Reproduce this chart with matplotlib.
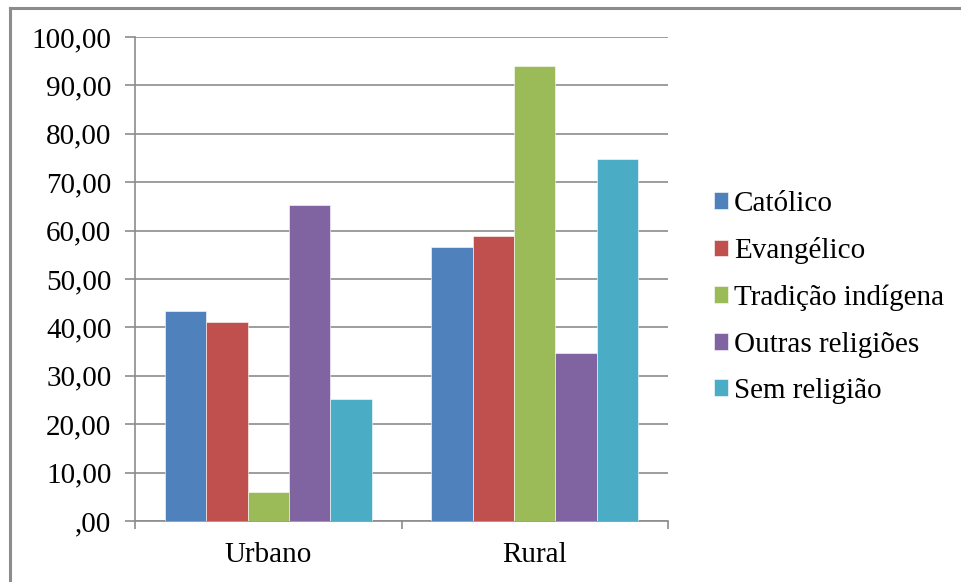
import matplotlib.pyplot as plt
import numpy as np
from matplotlib.lines import Line2D

plt.rcParams['font.family'] = ['Liberation Serif', 'DejaVu Serif']

grupos = ['Urbano', 'Rural']
religioes = ['Católico', 'Evangélico', 'Tradição indígena', 'Outras religiões', 'Sem religião']
urbano = [43.3, 41.2, 5.9, 65.3, 25.2]
rural = [56.7, 58.8, 94.1, 34.7, 74.8]
cores = ['#4F81BD', '#C0504D', '#9BBB59', '#8064A2', '#4BACC6']
yticks = [0, 10, 20, 30, 40, 50, 60, 70, 80, 90, 100]
ylabels = [',00', '10,00', '20,00', '30,00', '40,00', '50,00', '60,00', '70,00', '80,00', '90,00', '100,00']

W, H = 961, 582
fig = plt.figure(figsize=(W / 100, H / 100), dpi=100)
ax = fig.add_axes([135 / W, 1 - 521 / H, (668 - 135) / W, (521 - 37) / H])

# moldura: so aparecem as bordas de cima e da esquerda
fig.lines.append(Line2D([10 / W, 1], [1 - 8 / H, 1 - 8 / H], transform=fig.transFigure,
                        color='#8c8c8c', linewidth=2.2))
fig.lines.append(Line2D([10 / W, 10 / W], [0, 1 - 8 / H], transform=fig.transFigure,
                        color='#8c8c8c', linewidth=2.2))

x = np.arange(len(grupos))
largura = 0.155
for i, nome in enumerate(religioes):
    valores = [urbano[i], rural[i]]
    ax.bar(x + (i - 2) * largura, valores, largura, color=cores[i], label=nome,
           edgecolor='white', linewidth=0.4, zorder=3)

ax.set_xlim(-0.5, 1.5)
ax.set_ylim(0, 100)
ax.set_yticks(yticks)
ax.set_yticklabels(ylabels, fontsize=21)
ax.yaxis.grid(True, color='#8c8c8c', linewidth=1.2)
ax.set_axisbelow(True)

ax.set_xticks(x)
ax.set_xticklabels(grupos, fontsize=21)
ax.tick_params(axis='x', length=0, pad=15)
ax.set_xticks([-0.5, 0.5, 1.5], minor=True)
ax.tick_params(axis='x', which='minor', length=6, color='#8c8c8c', width=1.2)
ax.tick_params(axis='y', length=7, color='#8c8c8c', width=1.2, pad=10)

for lado in ['top', 'right']:
    ax.spines[lado].set_visible(False)
for lado in ['left', 'bottom']:
    ax.spines[lado].set_color('#8c8c8c')
    ax.spines[lado].set_linewidth(1.2)

ax.legend(loc='center left', bbox_to_anchor=(1.064, 0.462), borderaxespad=0, frameon=False,
          fontsize=21, handlelength=0.5, handleheight=0.5, handletextpad=0.2, labelspacing=0.7)

fig.savefig('out.png', dpi=100)
